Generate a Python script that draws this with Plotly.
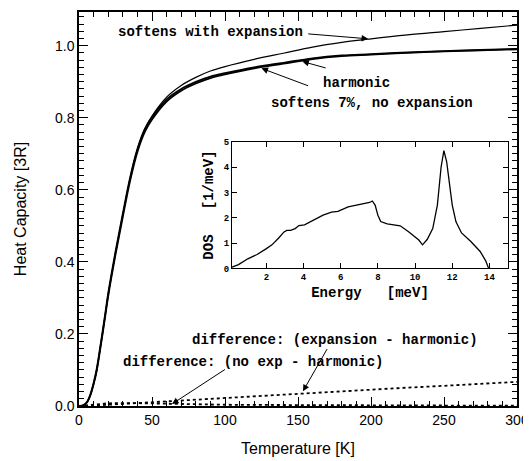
import plotly.graph_objects as go

# ---------------- data ----------------
T_K = [0, 2, 4, 6, 8, 10, 12, 15, 18, 20, 25, 30, 35, 40, 45, 50, 60, 70, 80, 90,
       100, 120, 140, 160, 180, 200, 225, 250, 275, 300]
c_harmonic = [0, 0.0005, 0.004, 0.013, 0.032, 0.06, 0.095, 0.17, 0.25, 0.305, 0.42, 0.525,
              0.625, 0.705, 0.76, 0.795, 0.845, 0.875, 0.895, 0.91, 0.92, 0.937, 0.95,
              0.963, 0.971, 0.975, 0.98, 0.984, 0.987, 0.99]
c_soft_noexp = [0, 0.0007, 0.005, 0.015, 0.035, 0.064, 0.1, 0.176, 0.257, 0.3125, 0.428,
                0.5335, 0.6335, 0.713, 0.7675, 0.802, 0.851, 0.88, 0.8995, 0.914, 0.9235,
                0.94, 0.9525, 0.965, 0.9728, 0.9765, 0.9813, 0.9851, 0.988, 0.9909]
c_soft_exp = [0, 0.0005, 0.004, 0.0132, 0.0325, 0.061, 0.0965, 0.172, 0.253, 0.3085, 0.4245,
              0.5305, 0.6315, 0.7125, 0.7685, 0.8045, 0.857, 0.8895, 0.912, 0.9295, 0.942,
              0.962, 0.979, 0.996, 1.009, 1.019, 1.03, 1.039, 1.048, 1.057]
d_exp = [0, 0, 0, 0.0002, 0.0005, 0.001, 0.0015, 0.002, 0.003, 0.0035, 0.0045, 0.0055,
         0.0065, 0.0075, 0.0085, 0.0095, 0.012, 0.0145, 0.017, 0.0195, 0.022, 0.027,
         0.0315, 0.036, 0.041, 0.045, 0.051, 0.056, 0.062, 0.067]
d_noexp = [0, 0.0002, 0.001, 0.002, 0.003, 0.004, 0.005, 0.006, 0.007, 0.0075, 0.008,
           0.0085, 0.0085, 0.008, 0.0075, 0.007, 0.006, 0.005, 0.0045, 0.004, 0.0035,
           0.003, 0.0025, 0.002, 0.0018, 0.0015, 0.0013, 0.0011, 0.001, 0.0009]

E_meV = [0.15, 0.5, 1.0, 1.5, 2.0, 2.3, 2.65, 2.95, 3.1, 3.3, 3.55, 3.75, 4.05, 4.35, 4.7,
         5.05, 5.5, 5.85, 6.4, 6.95, 7.3, 7.55, 7.7, 7.85, 8.0, 8.15, 8.5, 8.7, 9.2, 9.65,
         10.0, 10.2, 10.4, 10.65, 10.95, 11.2, 11.4, 11.55, 11.7, 11.85, 12.0, 12.2, 12.5,
         13.0, 13.5, 13.8, 13.95]
dos = [0.05, 0.15, 0.38, 0.55, 0.78, 0.93, 1.19, 1.44, 1.5, 1.5, 1.57, 1.69, 1.72, 1.84,
       1.96, 2.1, 2.22, 2.25, 2.43, 2.5, 2.55, 2.6, 2.66, 2.5, 2.1, 1.85, 1.76, 1.73, 1.68,
       1.45, 1.25, 1.12, 0.93, 1.14, 1.57, 2.5, 4.0, 4.65, 4.2, 3.3, 2.5, 1.84, 1.4, 1.06,
       0.67, 0.3, 0.02]

x_tick_step = 50
y_tick_step = 0.2
inset_x_tick_step = 2
inset_y_tick_step = 1

# ---------------- figure ----------------
MONO = "Liberation Mono, Courier New, monospace"
SANS = "Liberation Sans, Arial, Helvetica, sans-serif"
TC = "black"

fig = go.Figure()
fig.add_trace(go.Scatter(x=T_K, y=c_soft_exp, mode="lines",
                         line=dict(color="black", width=1.2, shape="spline"), showlegend=False))
fig.add_trace(go.Scatter(x=T_K, y=c_harmonic, mode="lines",
                         line=dict(color="black", width=1.8, shape="spline"), showlegend=False))
fig.add_trace(go.Scatter(x=T_K, y=c_soft_noexp, mode="lines",
                         line=dict(color="black", width=1.8, shape="spline"), showlegend=False))
fig.add_trace(go.Scatter(x=T_K, y=d_exp, mode="lines",
                         line=dict(color="black", width=1.8, dash="dot"), showlegend=False))
fig.add_trace(go.Scatter(x=T_K, y=d_noexp, mode="lines",
                         line=dict(color="black", width=1.8, dash="dot"), showlegend=False))
fig.add_trace(go.Scatter(x=E_meV, y=dos, mode="lines", line=dict(color="black", width=1.3),
                         xaxis="x2", yaxis="y2", showlegend=False))

fig.update_layout(
    width=523, height=453,
    margin=dict(l=71, r=14, t=0, b=55),
    paper_bgcolor="white", plot_bgcolor="white",
    xaxis=dict(range=[0, 300], dtick=x_tick_step,
               ticks="inside", ticklen=9, tickwidth=1.2, tickcolor=TC,
               minor=dict(dtick=10, ticklen=5, ticks="inside", tickcolor=TC, tickwidth=1),
               showline=True, linecolor="black", linewidth=1.5, mirror="ticks",
               showgrid=False, zeroline=False,
               tickfont=dict(family=SANS, size=14, color="black"),
               title=dict(text="Temperature [K]", font=dict(family=SANS, size=16, color="black"),
                          standoff=16)),
    yaxis=dict(range=[0, 1.0934], dtick=y_tick_step, tickformat=".1f",
               ticks="inside", ticklen=9, tickwidth=1.2, tickcolor=TC,
               minor=dict(dtick=0.02, ticklen=5, ticks="inside", tickcolor=TC, tickwidth=1),
               showline=True, linecolor="black", linewidth=1.5, mirror="ticks",
               showgrid=False, zeroline=False,
               tickfont=dict(family=SANS, size=14, color="black"),
               title=dict(text="Heat Capacity [3R]", font=dict(family=SANS, size=16, color="black"),
                          standoff=24)),
    xaxis2=dict(domain=[0.3493, 0.9795], anchor="y2", range=[0.15, 15], dtick=inset_x_tick_step,
                ticks="inside", ticklen=5, tickwidth=1.2, tickcolor=TC,
                showline=True, linecolor="black", linewidth=1.2, mirror="ticks",
                showgrid=False, zeroline=False,
                tickfont=dict(family=MONO, size=9, color="black", weight="bold"),
                title=dict(text="Energy\u00a0\u00a0\u00a0[meV]",
                           font=dict(family=MONO, size=14, color="black", weight="bold"),
                           standoff=4)),
    yaxis2=dict(domain=[0.3492, 0.6709], anchor="x2", range=[0, 5], dtick=inset_y_tick_step,
                ticks="inside", ticklen=5, tickwidth=1.2, tickcolor=TC,
                showline=True, linecolor="black", linewidth=1.2, mirror="ticks",
                showgrid=False, zeroline=False,
                tickfont=dict(family=MONO, size=9, color="black", weight="bold"),
                title=dict(text="DOS\u00a0\u00a0\u00a0[1/meV]",
                           font=dict(family=MONO, size=14, color="black", weight="bold"),
                           standoff=6)),
)

labels = [
    ("softens with expansion", 90.4, 1.038),
    ("harmonic", 190, 0.896),
    ("softens 7%, no expansion", 200.7, 0.841),
    ("difference: (expansion - harmonic)", 175, 0.184),
    ("difference: (no exp - harmonic)", 119, 0.121),
]
arrows = [
    (156, 1.033, 198, 1.019),
    (170, 0.937, 153, 0.956),
    (158, 0.887, 125, 0.937),
    (170.5, 0.162, 153.4, 0.041),
    (101, 0.104, 63.7, 0.0055),
]
for text, tx, ty in labels:
    fig.add_annotation(x=tx, y=ty, xref="x", yref="y", text="<b>" + text + "</b>", showarrow=False,
                       font=dict(family=MONO, size=14, color="black"),
                       xanchor="center", yanchor="middle")
for ax_, ay_, hx, hy in arrows:
    fig.add_annotation(x=hx, y=hy, ax=ax_, ay=ay_, xref="x", yref="y", axref="x", ayref="y",
                       text="", showarrow=True, arrowhead=2, arrowsize=1.3, arrowwidth=1,
                       arrowcolor="black", standoff=0, startstandoff=0)

fig.write_html("out.html")
